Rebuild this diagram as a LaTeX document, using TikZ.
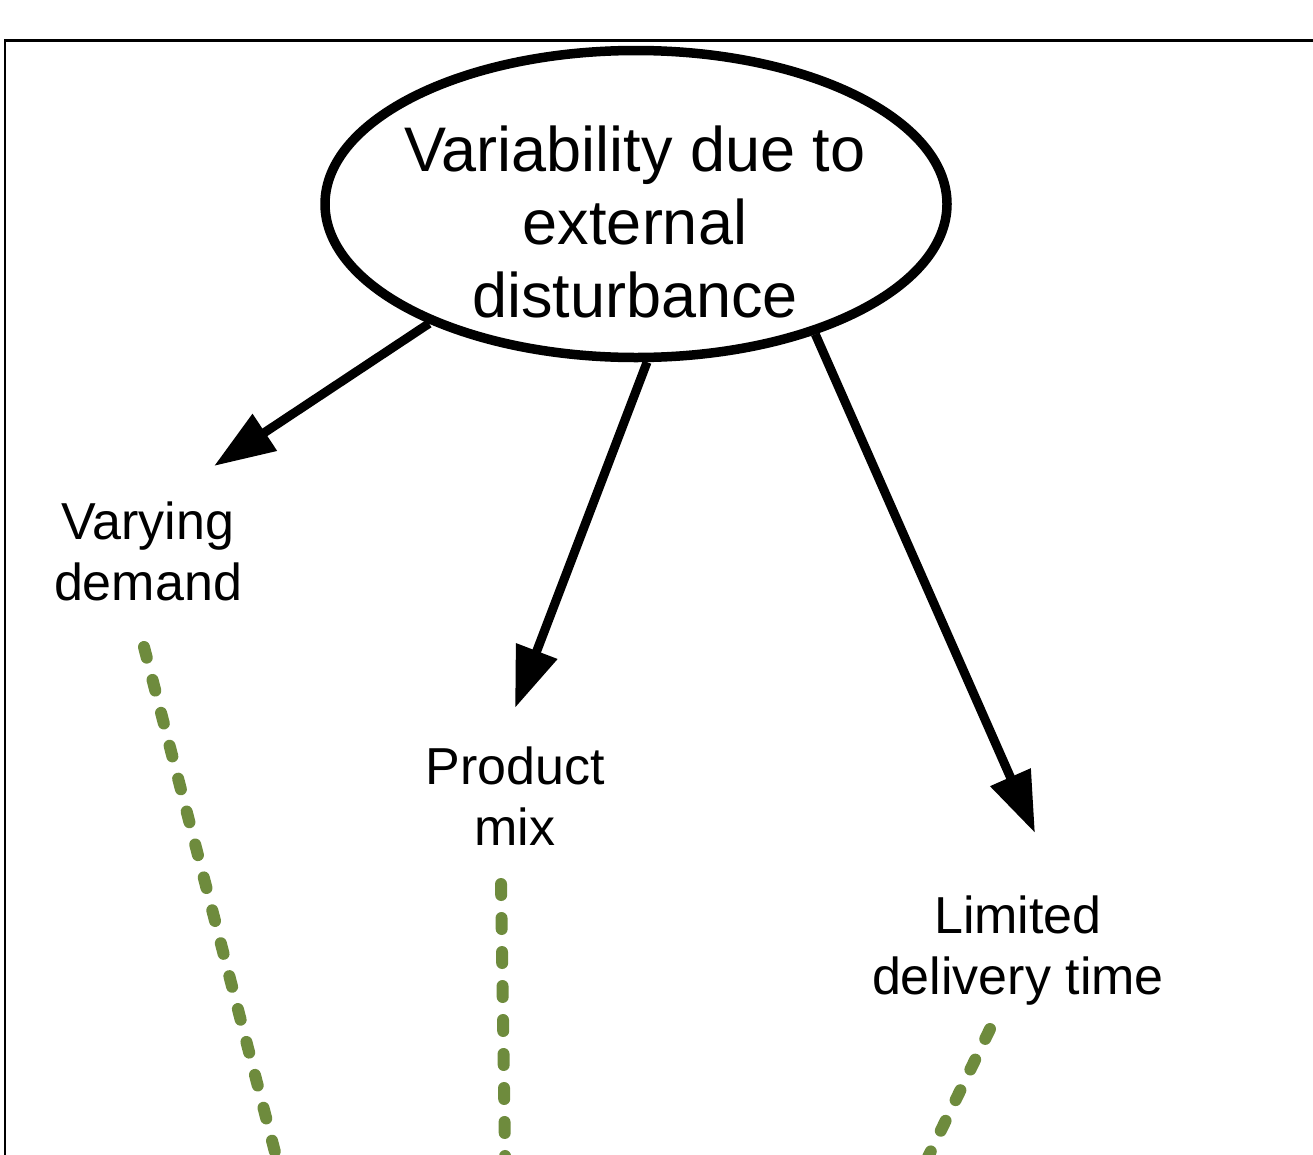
\documentclass[tikz,border=0pt]{standalone}
\usepackage{fontspec}
\setmainfont{Liberation Sans}
\usetikzlibrary{shapes.geometric,arrows.meta}
\definecolor{olive}{HTML}{6E8B3D}
\tikzset{
  bigarrow/.style={line width=9pt,-{Triangle[length=61pt,width=42pt]}},
  greenlink/.style={olive,line width=12pt,line cap=round,dash pattern=on 11pt off 23pt},
  headtext/.style={align=center,inner sep=0pt,font=\fontsize{63}{73}\selectfont},
  labeltext/.style={align=center,inner sep=0pt,font=\fontsize{52}{61}\selectfont},
}
\begin{document}
\begin{tikzpicture}[x=1pt,y=-1pt]
  \useasboundingbox (0,0) rectangle (1313,1154);
  \begin{scope}
    \clip (0,0) rectangle (1313,1154);
    % frame
    \draw[line width=2.6pt] (5,1170) -- (5,40.5) -- (1330,40.5);

    % central ellipse
    \node[draw,ellipse,line width=9.5pt,minimum width=622pt,minimum height=307pt,inner sep=0pt] (ell) at (636,204) {};
    \node[headtext] (ellText) at (635,222) {Variability due to\\external\\disturbance};

    % sub-factors
    \node[labeltext] (demand) at (148,551) {Varying\\demand};
    \node[labeltext] (mix) at (515,796) {Product\\mix};
    \node[labeltext] (delivery) at (1018,951) {Limited\\delivery time};

    % arrow ends
    \coordinate (demandTip) at (214,466);
    \coordinate (mixTip) at (515,708);
    \coordinate (deliveryTip) at (1035,833);

    \draw[bigarrow] (ell.210) -- (demandTip);
    \draw[bigarrow] (ell.274) -- (mixTip);
    \draw[bigarrow] (ell.324) -- (deliveryTip);

    % links leaving the picture below
    \coordinate (demandOut) at (144,647);
    \coordinate (demandEnd) at (290,1210);
    \coordinate (mixOut) at (501,884);
    \coordinate (mixEnd) at (506,1220);
    \coordinate (deliveryOut) at (990,1029);
    \coordinate (deliveryEnd) at (900,1215);

    \draw[greenlink] (demandOut) -- (demandEnd);
    \draw[greenlink] (mixOut) -- (mixEnd);
    \draw[greenlink] (deliveryOut) -- (deliveryEnd);
  \end{scope}
\end{tikzpicture}
\end{document}
